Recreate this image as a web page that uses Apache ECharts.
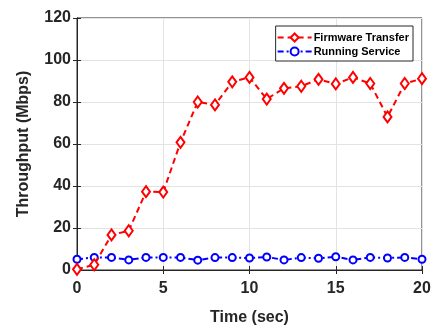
<!DOCTYPE html>
<html>
<head>
<meta charset="utf-8">
<script src="https://cdn.jsdelivr.net/npm/echarts@6/dist/echarts.min.js"></script>
<style>
html, body { margin: 0; padding: 0; background: #fff; }
#chart { width: 434px; height: 331px; }
</style>
</head>
<body>
<div id="chart"></div>
<script>
// time in seconds
var timeSec = [0, 1, 2, 3, 4, 5, 6, 7, 8, 9, 10, 11, 12, 13, 14, 15, 16, 17, 18, 19, 20];
var firmwareTransfer = [0.3, 2.5, 16.7, 18.7, 37.3, 37.1, 60.8, 80, 78.6, 89.6, 91.7, 81.4, 86.5, 87.5, 90.8, 88.6, 91.7, 88.8, 72.9, 88.8, 91.1];
var runningService = [5.1, 6, 6, 4.8, 6, 6, 6, 4.7, 5.9, 5.9, 5.7, 6.2, 4.8, 5.9, 5.6, 6.3, 4.8, 6, 5.7, 6, 5.1];
var seriesNames = ['Firmware Transfer', 'Running Service'];

function pairs(ys) {
	return timeSec.map(function (t, i) { return [t, ys[i]]; });
}

var chart = echarts.init(document.getElementById('chart'), null, { renderer: 'canvas' });

var axisText = { color: '#262626', fontFamily: 'Liberation Sans', fontWeight: 'bold', fontSize: 16 };
var lineCol = '#262626';

var option = {
	animation: false,
	backgroundColor: '#fff',
	grid: { left: 77, right: 12, top: 18, bottom: 54, show: true, borderColor: lineCol, borderWidth: 1 },
	legend: {
		data: seriesNames,
		orient: 'vertical',
		right: 21,
		top: 26,
		itemWidth: 34,
		itemHeight: 10,
		itemGap: 3,
		padding: [6, 4, 4, 1],
		borderColor: '#262626',
		borderWidth: 1,
		backgroundColor: '#fff',
		textStyle: { color: '#000', fontFamily: 'Liberation Sans', fontWeight: 'bold', fontSize: 11, padding: [0, 0, 0, -3] }
	},
	xAxis: [{
		type: 'value',
		min: 0, max: 20, interval: 5,
		name: 'Time (sec)',
		nameLocation: 'middle',
		nameGap: 40,
		nameTextStyle: axisText,
		axisLine: { show: true, onZero: false, lineStyle: { color: lineCol } },
		axisTick: { inside: true, length: 4, lineStyle: { color: lineCol } },
		axisLabel: Object.assign({ margin: 11 }, axisText),
		splitLine: { show: true, lineStyle: { color: '#e3e3e3' } }
	}, {
		type: 'value', position: 'top',
		min: 0, max: 20, interval: 5,
		axisLine: { show: true, lineStyle: { color: lineCol } },
		axisTick: { inside: true, length: 4, lineStyle: { color: lineCol } },
		axisLabel: { show: false },
		splitLine: { show: false }
	}],
	yAxis: [{
		type: 'value',
		min: 0, max: 120, interval: 20,
		name: 'Throughput (Mbps)',
		nameLocation: 'middle',
		nameGap: 45,
		nameTextStyle: axisText,
		axisLine: { show: true, lineStyle: { color: lineCol } },
		axisTick: { show: true, inside: true, length: 4, lineStyle: { color: lineCol } },
		axisLabel: Object.assign({ margin: 6 }, axisText),
		splitLine: { show: true, lineStyle: { color: '#e3e3e3' } }
	}, {
		type: 'value', position: 'right',
		min: 0, max: 120, interval: 20,
		axisLine: { show: true, lineStyle: { color: lineCol } },
		axisTick: { show: true, inside: true, length: 4, lineStyle: { color: lineCol } },
		axisLabel: { show: false },
		splitLine: { show: false }
	}],
	series: [
		{
			name: seriesNames[0],
			type: 'line',
			data: pairs(firmwareTransfer),
			symbol: 'diamond',
			symbolSize: [8, 11],
			showAllSymbol: true,
			itemStyle: { color: '#fff', borderColor: '#ff0000', borderWidth: 2 },
			lineStyle: { color: '#ff0000', width: 2, type: [6, 4] },
			z: 3
		},
		{
			name: seriesNames[1],
			type: 'line',
			data: pairs(runningService),
			symbol: 'circle',
			symbolSize: 7,
			showAllSymbol: true,
			itemStyle: { color: '#fff', borderColor: '#0000ff', borderWidth: 2 },
			lineStyle: { color: '#0000ff', width: 2, type: [6, 3, 2, 3] },
			z: 2
		}
	]
};

chart.setOption(option);
</script>
</body>
</html>
